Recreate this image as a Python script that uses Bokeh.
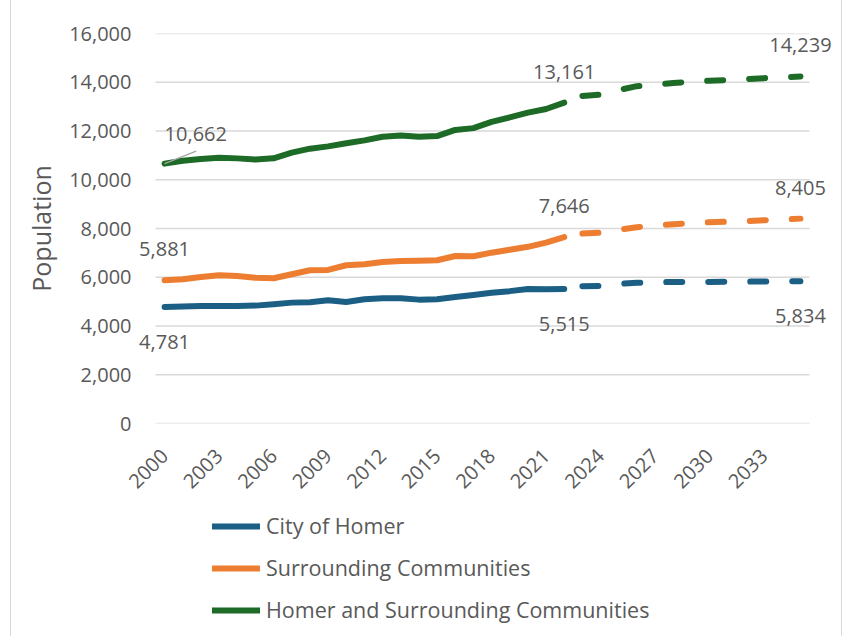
import math
from bokeh.plotting import figure
from bokeh.layouts import column
from bokeh.models import (ColumnDataSource, Range1d, FixedTicker, NumeralTickFormatter,
                          Legend, LegendItem, LabelSet)
from bokeh.core.properties import value
from bokeh.embed import file_html
from bokeh.resources import INLINE

# ---------------- data ----------------
years_actual = [2000, 2001, 2002, 2003, 2004, 2005, 2006, 2007, 2008, 2009, 2010, 2011,
                2012, 2013, 2014, 2015, 2016, 2017, 2018, 2019, 2020, 2021, 2022]
years_proj = [2023, 2024, 2025, 2026, 2027, 2028, 2029, 2030, 2031, 2032, 2033, 2034, 2035]

homer_actual = [4781, 4795, 4824, 4824, 4824, 4836, 4893, 4959, 4975, 5057, 4988, 5098,
                5139, 5139, 5082, 5098, 5190, 5270, 5360, 5430, 5520, 5505, 5515]
surr_actual = [5881, 5918, 6012, 6082, 6053, 5984, 5959, 6123, 6287, 6299, 6492, 6533,
               6627, 6668, 6680, 6697, 6870, 6860, 7008, 7130, 7248, 7418, 7646]
total_actual = [10662, 10780, 10850, 10904, 10877, 10828, 10880, 11110, 11275, 11370, 11500, 11615,
                11764, 11812, 11762, 11792, 12045, 12118, 12372, 12560, 12754, 12904, 13161]

homer_proj = [5630, 5645, 5725, 5770, 5795, 5805, 5808, 5810, 5815, 5820, 5825, 5830, 5834]
surr_proj = [7790, 7830, 7950, 8055, 8115, 8175, 8225, 8255, 8280, 8305, 8340, 8370, 8405]
total_proj = [13440, 13490, 13680, 13840, 13900, 13970, 14025, 14062, 14090, 14130, 14168, 14202, 14239]

tick_years = [2000, 2003, 2006, 2009, 2012, 2015, 2018, 2021, 2024, 2027, 2030, 2033]
y_ticks = [0, 2000, 4000, 6000, 8000, 10000, 12000, 14000, 16000]

series_names = ["City of Homer", "Surrounding Communities", "Homer and Surrounding Communities"]
colors = ["#1B5F84", "#ED7D31", "#1D6B27"]

FONT = "Open Sans"
TXT = "#595959"

# ---------------- layout constants (pixels, relative to chart box at x=11) ----------------
PLOT_LEFT, PLOT_RIGHT = 144, 798          # category area (gridline extent)
FRAME_LEFT, FRAME_RIGHT = 123, 824        # drawing frame (room for data labels)
FRAME_TOP, FRAME_BOTTOM = 33, 423
FIG_W, FIG_H = 830, 500
LEG_H = 136

first_cat = years_actual[0] - 0.5
last_cat = years_proj[-1] + 0.5
px_per_year = (PLOT_RIGHT - PLOT_LEFT) / (last_cat - first_cat)
x_lo = first_cat - (PLOT_LEFT - FRAME_LEFT) / px_per_year
x_hi = last_cat + (FRAME_RIGHT - PLOT_RIGHT) / px_per_year

# ---------------- figure ----------------
p = figure(width=FIG_W, height=FIG_H, output_backend="svg", toolbar_location=None,
           x_range=Range1d(x_lo, x_hi), y_range=Range1d(y_ticks[0], y_ticks[-1]),
           min_border_left=FRAME_LEFT, min_border_right=FIG_W - FRAME_RIGHT,
           min_border_top=FRAME_TOP, min_border_bottom=FIG_H - FRAME_BOTTOM)
p.outline_line_color = None
p.background_fill_color = "white"
p.border_fill_color = "white"
p.xgrid.grid_line_color = None
p.ygrid.grid_line_color = None

# gridlines spanning only the category area
p.segment(x0=[first_cat] * len(y_ticks), y0=y_ticks, x1=[last_cat] * len(y_ticks), y1=y_ticks,
          line_color="#d9d9d9", line_width=1.5)

# axes
p.yaxis.ticker = FixedTicker(ticks=y_ticks)
p.yaxis.formatter = NumeralTickFormatter(format="0,0")
p.xaxis.ticker = FixedTicker(ticks=tick_years)
p.xaxis.major_label_orientation = math.pi / 4
for ax in (p.xaxis, p.yaxis):
    ax.axis_line_color = None
    ax.major_tick_line_color = None
    ax.minor_tick_line_color = None
    ax.major_label_text_font = FONT
    ax.major_label_text_font_size = "20px"
    ax.major_label_text_color = TXT
p.yaxis.major_label_standoff = -3
p.xaxis.major_label_standoff = 23
p.yaxis.axis_label = "Population"
p.yaxis.axis_label_text_font = FONT
p.yaxis.axis_label_text_font_size = "25px"
p.yaxis.axis_label_text_font_style = "normal"
p.yaxis.axis_label_text_color = TXT
p.yaxis.axis_label_standoff = 8

# ---------------- lines ----------------
actuals = [homer_actual, surr_actual, total_actual]
projs = [homer_proj, surr_proj, total_proj]
for col, act, prj in zip(colors, actuals, projs):
    p.line(years_actual, act, line_color=col, line_width=6, line_cap="round", line_join="round")
    p.line(years_proj, prj, line_color=col, line_width=6, line_cap="round",
           line_join="round", line_dash="16 26")

# leader line for first total label
p.ray(x=[years_actual[0]], y=[total_actual[0]], length=34, length_units="screen",
      angle=21.6, angle_units="deg", line_color="#a6a6a6", line_width=1.2)

# ---------------- data labels ----------------
def fmt(v):
    return f"{v:,}"

above_x = [years_actual[0], years_actual[-1], years_actual[-1], years_proj[-1], years_proj[-1]]
above_y = [surr_actual[0], total_actual[-1], surr_actual[-1], total_proj[-1], surr_proj[-1]]
below_x = [years_actual[0], years_actual[-1], years_proj[-1]]
below_y = [homer_actual[0], homer_actual[-1], homer_proj[-1]]
left_x = [years_actual[0]]
left_y = [total_actual[0]]

def labels(xs, ys, align, xo, yo):
    src = ColumnDataSource(dict(x=xs, y=ys, t=[fmt(v) for v in ys]))
    ls = LabelSet(x="x", y="y", text="t", source=src, x_offset=xo, y_offset=yo,
                  text_align=align, text_baseline="alphabetic",
                  text_font=value(FONT), text_font_size="20px", text_color=TXT)
    p.add_layout(ls)

labels(above_x, above_y, "center", 0, 24)
labels(below_x, below_y, "center", 0, -42)
labels(left_x, left_y, "left", 0, 23)

# ---------------- legend (own panel below, frame aligned with chart frame) ----------------
leg = figure(width=FIG_W, height=LEG_H, output_backend="svg", toolbar_location=None,
             x_axis_location=None, y_axis_location=None,
             x_range=Range1d(0, 1), y_range=Range1d(0, 1),
             min_border=0, min_border_left=0, min_border_right=0,
             min_border_top=0, min_border_bottom=0)
leg.outline_line_color = None
leg.xgrid.grid_line_color = None
leg.ygrid.grid_line_color = None
items = []
# legend renderers carry the real series; they fall outside this panel's range
for name, col, act in zip(series_names, colors, actuals):
    r = leg.line(x=years_actual, y=act, line_color=col, line_width=6, line_cap="round")
    items.append(LegendItem(label=name, renderers=[r]))
legend = Legend(items=items, location=(78, 12), orientation="vertical",
                border_line_color=None, background_fill_alpha=0, padding=0, margin=0,
                spacing=13, glyph_width=48, glyph_height=24, label_height=24,
                label_standoff=6, label_text_font=FONT, label_text_font_size="21.5px",
                label_text_color=TXT)
leg.add_layout(legend)

layout = column(p, leg, spacing=0,
                styles={"margin-left": "10px",
                        "border-left": "1px solid #d9d9d9",
                        "border-right": "1px solid #d9d9d9"})
open("out.html", "w").write(file_html(layout, INLINE))
